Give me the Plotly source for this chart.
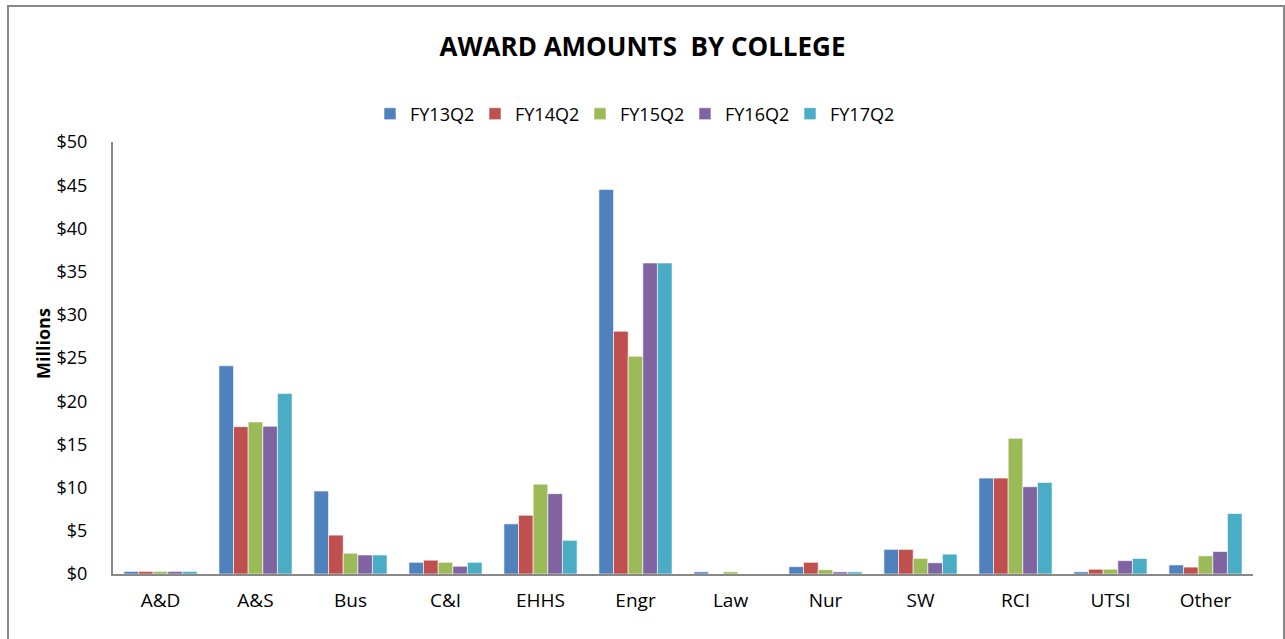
import plotly.graph_objects as go

colleges = ["A&D", "A&S", "Bus", "C&I", "EHHS", "Engr", "Law", "Nur", "SW", "RCI", "UTSI", "Other"]
series_names = ["FY13Q2", "FY14Q2", "FY15Q2", "FY16Q2", "FY17Q2"]
fy13 = [0.3, 24.1, 9.6, 1.35, 5.8, 44.5, 0.25, 0.85, 2.85, 11.1, 0.25, 1.05]
fy14 = [0.3, 17.05, 4.5, 1.6, 6.8, 28.1, 0.0, 1.35, 2.85, 11.1, 0.55, 0.8]
fy15 = [0.3, 17.6, 2.4, 1.35, 10.4, 25.2, 0.25, 0.5, 1.8, 15.7, 0.55, 2.1]
fy16 = [0.3, 17.1, 2.2, 0.9, 9.3, 36.0, 0.0, 0.25, 1.3, 10.1, 1.55, 2.6]
fy17 = [0.3, 20.9, 2.2, 1.35, 3.9, 36.0, 0.0, 0.25, 2.3, 10.6, 1.8, 7.0]
colors = ["#4F81BD", "#C0504D", "#9BBB59", "#8064A2", "#4BACC6"]
tick_vals = [0, 5, 10, 15, 20, 25, 30, 35, 40, 45, 50]
tick_text = ["$" + str(v) for v in tick_vals]

fig = go.Figure()
for name, vals, c in zip(series_names, [fy13, fy14, fy15, fy16, fy17], colors):
    fig.add_trace(go.Bar(x=colleges, y=vals, name=name,
                         marker=dict(color=c, line=dict(color="rgba(255,255,255,0.6)", width=1))))

L, R, T, B = 113, 32, 142, 65
W, H = 1285, 639
pw = W - L - R
ph = H - T - B
FONT = "Open Sans, Liberation Sans, sans-serif"

fig.update_layout(
    width=W, height=H,
    margin=dict(l=L, r=R, t=T, b=B),
    paper_bgcolor="white", plot_bgcolor="white",
    barmode="group", bargap=0.23, bargroupgap=0,
    font=dict(family=FONT, size=18, color="#000"),
    title=dict(text="<b>AWARD AMOUNTS  BY COLLEGE</b>", x=0.5, xanchor="center", y=1 - 47 / H, yanchor="middle",
               font=dict(size=26, family=FONT)),
    legend=dict(orientation="h", x=(370 - L) / pw, xanchor="left", y=1 + (T - 114) / ph, yanchor="middle",
                font=dict(size=18), traceorder="normal", itemwidth=30, entrywidth=60),
    xaxis=dict(showline=True, linecolor="#888", linewidth=2, ticks="", showgrid=False,
               tickfont=dict(size=19), automargin=False, ticklabelstandoff=8),
    yaxis=dict(range=[0, 50], tickvals=tick_vals, ticktext=tick_text, showline=True, linecolor="#888", linewidth=2,
               ticks="", showgrid=False, zeroline=False, automargin=False, ticklabelstandoff=20,
               tickfont=dict(size=18)),
    showlegend=True,
)
fig.add_annotation(text="<b>Millions</b>", textangle=-90, xref="paper", yref="paper",
                   x=(43 - L) / pw, y=(T + ph - 344) / ph, xanchor="center", yanchor="middle",
                   showarrow=False, font=dict(size=18, family=FONT))
# outer chart border
fig.add_shape(type="rect", xref="paper", yref="paper",
              x0=(8 - L) / pw, x1=(1284 - L) / pw, y0=-(B + 5) / ph, y1=(ph + T - 6) / ph,
              line=dict(color="#888", width=2), fillcolor="rgba(0,0,0,0)", layer="below")

fig.write_html("out.html", config={"displayModeBar": False},
               post_script="document.body.style.margin='0';document.body.style.overflow='hidden';")
